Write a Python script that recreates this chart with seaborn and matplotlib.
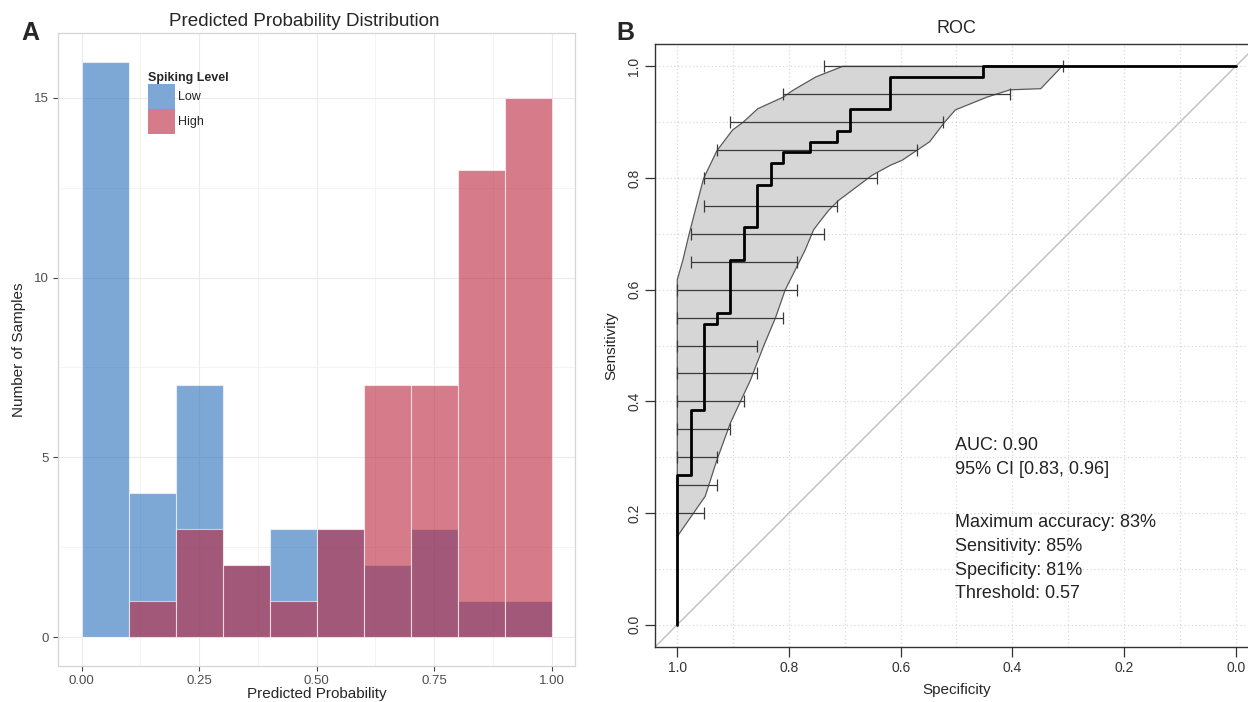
import numpy as np
import pandas as pd
import matplotlib
matplotlib.use("Agg")
import matplotlib.pyplot as plt
from matplotlib.patches import Patch
import seaborn as sns

# ---------------- data ----------------
bin_edges = [0.0, 0.1, 0.2, 0.3, 0.4, 0.5, 0.6, 0.7, 0.8, 0.9, 1.0]
low_counts = [16, 4, 7, 2, 3, 3, 2, 3, 1, 1]
high_counts = [0, 1, 3, 2, 1, 3, 7, 7, 13, 15]
levels = ["Low", "High"]

x_ticks_a = [0.0, 0.25, 0.5, 0.75, 1.0]
x_ticklabels_a = ["0.00", "0.25", "0.50", "0.75", "1.00"]
y_ticks_a = [0, 5, 10, 15]

# ROC curve vertices (specificity, sensitivity)
roc_spec = [1.000, 1.000, 0.976, 0.952, 0.929, 0.905, 0.881, 0.857, 0.833, 0.810,
            0.762, 0.714, 0.690, 0.619, 0.452, 0.000]
roc_sens = [0.000, 0.269, 0.385, 0.538, 0.558, 0.654, 0.712, 0.788, 0.827, 0.846,
            0.865, 0.885, 0.923, 0.981, 1.000, 1.000]

# CI band: high-specificity boundary and low-specificity boundary
band_hi_sens = [0.158, 0.618, 0.653, 0.699, 0.799, 0.849, 0.886, 0.900, 0.924, 0.945,
                0.957, 0.981, 1.000]
band_hi_spec = [1.000, 1.000, 0.990, 0.979, 0.953, 0.929, 0.901, 0.882, 0.856, 0.810,
                0.793, 0.752, 0.704]
band_lo_sens = [0.158, 0.230, 0.295, 0.361, 0.438, 0.500, 0.550, 0.599, 0.641, 0.671,
                0.707, 0.719, 0.742, 0.760, 0.769, 0.787, 0.805, 0.823, 0.832, 0.865,
                0.899, 0.922, 0.945, 0.958, 0.960, 1.000]
band_lo_spec = [1.000, 0.950, 0.929, 0.905, 0.869, 0.845, 0.824, 0.807, 0.786, 0.771,
                0.756, 0.747, 0.729, 0.711, 0.699, 0.675, 0.651, 0.618, 0.597, 0.548,
                0.522, 0.502, 0.445, 0.404, 0.349, 0.311]

# specificity CI bars at fixed sensitivities
ci_sens = [0.20, 0.25, 0.30, 0.35, 0.40, 0.45, 0.50, 0.55, 0.60, 0.65, 0.70, 0.75,
           0.80, 0.85, 0.90, 0.95, 1.00]
ci_spec_hi = [1.000, 1.000, 1.000, 1.000, 1.000, 1.000, 1.000, 1.000, 1.000, 0.976,
              0.976, 0.952, 0.952, 0.929, 0.905, 0.810, 0.738]
ci_spec_lo = [0.952, 0.929, 0.929, 0.905, 0.881, 0.857, 0.857, 0.810, 0.786, 0.786,
              0.738, 0.714, 0.643, 0.571, 0.524, 0.405, 0.310]

roc_ticks = [0.0, 0.2, 0.4, 0.6, 0.8, 1.0]
roc_ticklabels = ["0.0", "0.2", "0.4", "0.6", "0.8", "1.0"]

auc_text = "AUC: 0.90\n95% CI [0.83, 0.96]"
acc_text = ("Maximum accuracy: 83%\nSensitivity: 85%\nSpecificity: 81%\n"
            "Threshold: 0.57")

# ---------------- style ----------------
sns.set_theme(style="white")
plt.rcParams["font.family"] = ["Liberation Sans", "DejaVu Sans"]

fig = plt.figure(figsize=(12.48, 7.02), dpi=100)

# ================= Panel A =================
ax1 = fig.add_axes([0.0465, 0.0513, 0.4143, 0.9017])

centers = [(bin_edges[i] + bin_edges[i + 1]) / 2 for i in range(len(low_counts))]
df = pd.DataFrame({
    "prob": centers * 2,
    "count": low_counts + high_counts,
    "level": ["Low"] * len(low_counts) + ["High"] * len(high_counts),
})
base_blue = "#266EBB"
base_red = "#BB233A"
sns.histplot(data=df, x="prob", weights="count", hue="level",
             hue_order=["High", "Low"], bins=bin_edges, multiple="layer",
             palette={"Low": base_blue, "High": base_red}, alpha=0.6,
             edgecolor=(1, 1, 1, 0.6), linewidth=0.8, legend=False, ax=ax1)

ax1.set_xlim(-0.05, 1.05)
ax1.set_ylim(-0.8, 16.8)
ax1.set_xticks(x_ticks_a)
ax1.set_xticklabels(x_ticklabels_a)
ax1.set_yticks(y_ticks_a)
ax1.set_xticks([0.125, 0.375, 0.625, 0.875], minor=True)
ax1.set_yticks([2.5, 7.5, 12.5], minor=True)
ax1.set_axisbelow(True)
ax1.grid(True, which="major", color="#EBEBEB", linewidth=0.8)
ax1.grid(True, which="minor", color="#F3F3F3", linewidth=0.6)
for s in ax1.spines.values():
    s.set_color("#D5D5D5")
    s.set_linewidth(0.9)
ax1.tick_params(axis="both", which="major", length=3.5, width=0.8, color="#444444",
                labelcolor="#4D4D4D", labelsize=9.5, pad=3, bottom=True, left=True)
ax1.tick_params(which="minor", length=0)
ax1.set_xlabel("Predicted Probability", fontsize=11, labelpad=0)
ax1.set_ylabel("Number of Samples", fontsize=11, labelpad=6)
ax1.set_title("Predicted Probability Distribution", fontsize=13.6, pad=5, x=0.476)

leg_handles = [Patch(facecolor="#7DA8D6", edgecolor="none"),
               Patch(facecolor="#D67B89", edgecolor="none")]
leg = ax1.legend(leg_handles, levels, title="Spiking Level", loc="upper left",
                 bbox_to_anchor=(0.162, 0.949), frameon=False, fontsize=9,
                 title_fontproperties={"weight": "bold", "size": 9},
                 handlelength=2.16, handleheight=2.75, labelspacing=0.0,
                 handletextpad=0.25, borderpad=0.0, alignment="left")

fig.text(21 / 1248, 1 - 40 / 702, "A", fontsize=18, fontweight="bold", va="baseline")

# ================= Panel B =================
ax2 = fig.add_axes([0.5248, 0.0783, 0.4832, 0.859])
ax2.set_xlim(1.04, -0.04)
ax2.set_ylim(-0.04, 1.04)

grid_pos = np.arange(0, 11) / 10
for g in grid_pos:
    ax2.axvline(g, color="#D8D8D8", linestyle=(0, (1, 2)), linewidth=0.9, zorder=0)
    ax2.axhline(g, color="#D8D8D8", linestyle=(0, (1, 2)), linewidth=0.9, zorder=0)

# CI band polygon
poly_x = list(band_hi_spec) + list(band_lo_spec[::-1])
poly_y = list(band_hi_sens) + list(band_lo_sens[::-1])
ax2.fill(poly_x, poly_y, facecolor="#D6D6D6", edgecolor="#5A5A5A", linewidth=0.9, zorder=1)

# diagonal
ax2.plot([1.04, -0.04], [-0.04, 1.04], color="#BEBEBE", linewidth=1.0, zorder=1.5)

# CI bars
ci_hi = np.array(ci_spec_hi)
ci_lo = np.array(ci_spec_lo)
ax2.errorbar(x=(ci_hi + ci_lo) / 2, y=ci_sens, xerr=(ci_hi - ci_lo) / 2, fmt="none",
             ecolor="#3A3A3A", elinewidth=0.9, capsize=4.2, capthick=0.9, zorder=2)

# ROC curve
sns.lineplot(x=roc_spec, y=roc_sens, sort=False, estimator=None, color="black",
             linewidth=2.0, drawstyle="steps-post", ax=ax2, zorder=3)
ax2.set_xlim(1.04, -0.04)
ax2.set_ylim(-0.04, 1.04)

ax2.set_xticks(roc_ticks)
ax2.set_xticklabels(roc_ticklabels)
ax2.set_yticks(roc_ticks)
ax2.set_yticklabels(roc_ticklabels, rotation=90, va="center")
ax2.tick_params(axis="both", length=7, width=0.9, color="#333333", labelcolor="#333333",
                labelsize=10, pad=3, bottom=True, left=True)
for s in ax2.spines.values():
    s.set_color("#333333")
    s.set_linewidth(1.0)
ax2.set_xlabel("Specificity", fontsize=11, labelpad=6)
ax2.set_ylabel("Sensitivity", fontsize=11, labelpad=6)
ax2.set_title("ROC", fontsize=13, pad=8)

ax2.text(0.502, 0.336, auc_text, fontsize=13, va="top", ha="left",
         color="#222222", linespacing=1.52, zorder=4)
ax2.text(0.502, 0.198, acc_text, fontsize=13, va="top", ha="left",
         color="#222222", linespacing=1.52, zorder=4)

fig.text(616 / 1248, 1 - 40 / 702, "B", fontsize=18, fontweight="bold", va="baseline")

fig.savefig("out.png", dpi=100)
